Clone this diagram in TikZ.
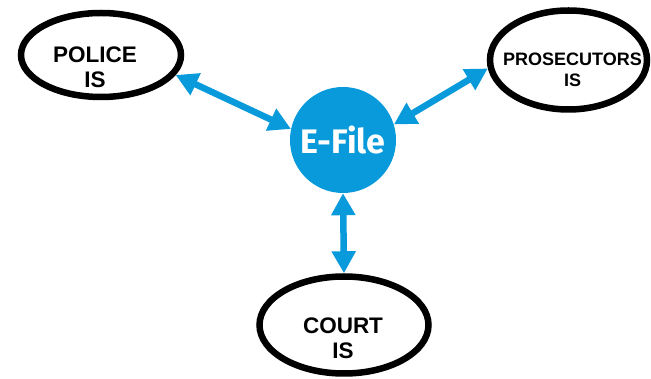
\documentclass[tikz,border=0pt]{standalone}
\usepackage{fontspec}
\setmainfont{Liberation Sans}
\newfontfamily\efilefont{Fira Sans}
\usetikzlibrary{shapes.geometric,arrows.meta}
\definecolor{eblue}{RGB}{8,154,218}
\tikzset{
  isbox/.style={draw=black, line width=6.5pt, ellipse, inner sep=0pt, fill=white},
  lbl/.style={align=center, font=\bfseries\fontsize{22.5}{25}\selectfont, inner sep=0pt},
  arr/.style={draw=eblue, line width=6.5pt,
    {Triangle[width=23pt,length=22pt]}-{Triangle[width=23pt,length=22pt]}}
}
\begin{document}
\begin{tikzpicture}[x=1pt,y=-1pt]
\useasboundingbox (0,0) rectangle (651,379);
\node[isbox, minimum width=160pt, minimum height=84pt] (police) at (101,55) {};
\node[isbox, minimum width=157pt, minimum height=99pt] (pros) at (568.5,60) {};
\node[isbox, minimum width=169pt, minimum height=97pt] (court) at (344,325) {};
\node[circle, fill=eblue, minimum size=106pt, inner sep=0pt] (efile) at (343,140) {};
\node[text=white, font=\efilefont\bfseries\fontsize{34}{40}\selectfont, inner sep=0pt] (eftxt) at (343,140) {E-File};
\node[lbl] (policetxt) at (95,67.5) {POLICE\\IS};
\node[lbl, font=\bfseries\fontsize{18}{21}\selectfont] (prostxt) at (572.5,70) {PROSECUTORS\\IS};
\node[lbl] (courttxt) at (343,338) {COURT\\IS};
\draw[arr] (police.-15) -- (efile.168);
\draw[arr] (pros.-174) -- (efile.17);
\draw[arr] (efile.south) -- (court.north);
\end{tikzpicture}
\end{document}
